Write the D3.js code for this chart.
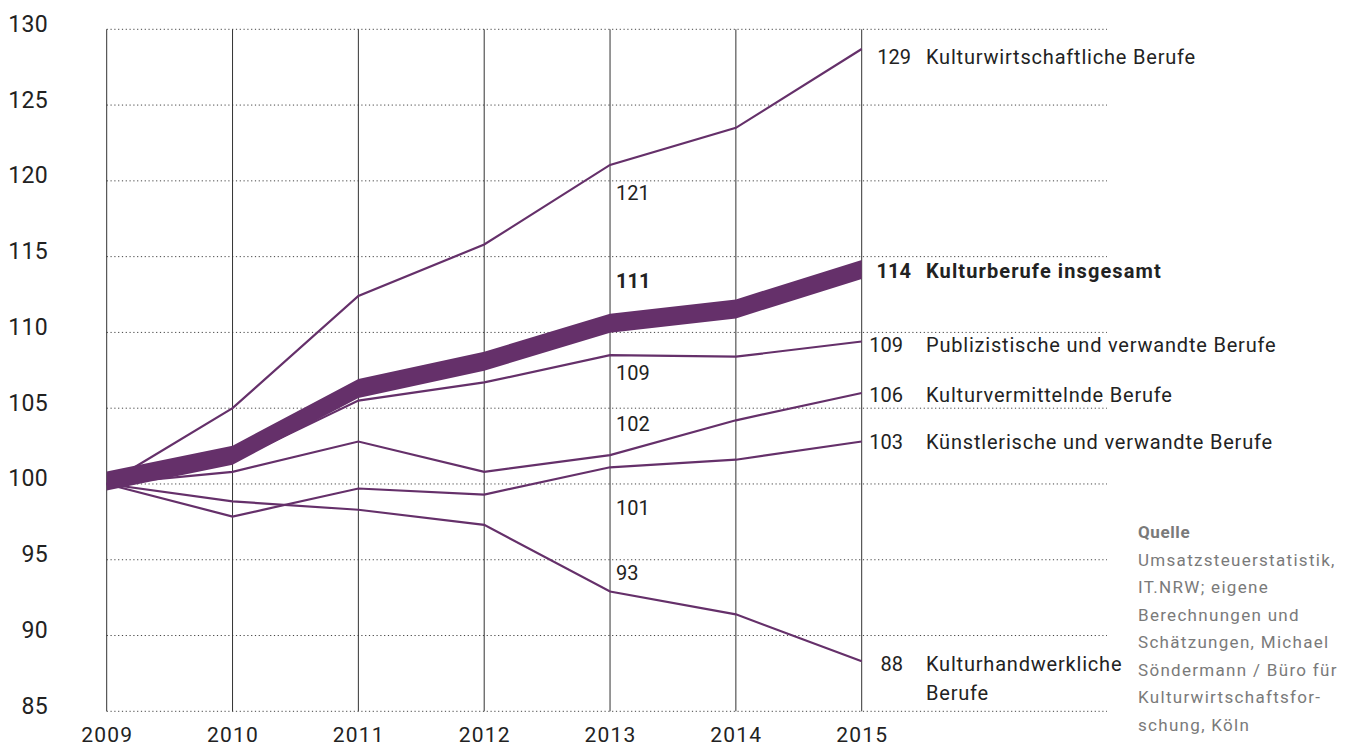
<!DOCTYPE html>
<html lang="de">
<head>
<meta charset="utf-8">
<script src="https://cdn.jsdelivr.net/npm/d3@7/dist/d3.min.js"></script>
<style>
  html, body { margin: 0; padding: 0; background: #fff; }
  svg { display: block; font-family: Roboto, "Noto Sans", sans-serif; }
</style>
</head>
<body>
<svg id="chart" width="1346" height="746"></svg>
<script>
// Index 2009 = 100, Entwicklung der Kulturberufe bis 2015
const years = [2009, 2010, 2011, 2012, 2013, 2014, 2015];
const yTicks = [85, 90, 95, 100, 105, 110, 115, 120, 125, 130];

const seriesNames = [
  "Kulturwirtschaftliche Berufe",
  "Kulturberufe insgesamt",
  "Publizistische und verwandte Berufe",
  "Kulturvermittelnde Berufe",
  "Künstlerische und verwandte Berufe",
  "Kulturhandwerkliche Berufe"
];
const kulturwirtschaftlich = [100, 105.0, 112.4, 115.8, 121.05, 123.5, 128.7];
const insgesamt            = [100.2, 101.9, 106.3, 108.1, 110.6, 111.55, 114.15];
const publizistisch        = [100, 101.5, 105.5, 106.7, 108.5, 108.4, 109.4];
const vermittelnd          = [100, 100.8, 102.8, 100.8, 101.9, 104.2, 106.0];
const kuenstlerisch        = [100, 97.85, 99.7, 99.3, 101.1, 101.6, 102.8];
const handwerklich         = [100, 98.85, 98.3, 97.3, 92.9, 91.4, 88.3];

const sourceTitle = "Quelle";
const sourceLines = [
  "Umsatzsteuerstatistik,",
  "IT.NRW; eigene",
  "Berechnungen und",
  "Schätzungen, Michael",
  "Söndermann / Büro für",
  "Kulturwirtschaftsfor-",
  "schung, Köln"
];

const seriesValues = [kulturwirtschaftlich, insgesamt, publizistisch, vermittelnd, kuenstlerisch, handwerklich];
const series = seriesNames.map((name, i) => ({ name, values: seriesValues[i], total: i === 1 }));

// label placement (pixel offsets relative to the series' point)
const endLabelLayout = [
  { numX: 911, dy: 15, lines: ["Kulturwirtschaftliche Berufe"] },
  { numX: 911, dy: 8.5, lines: ["Kulturberufe insgesamt"] },
  { numX: 903, dy: 10, lines: ["Publizistische und verwandte Berufe"] },
  { numX: 903, dy: 9, lines: ["Kulturvermittelnde Berufe"] },
  { numX: 903, dy: 7.5, lines: ["Künstlerische und verwandte Berufe"] },
  { numX: 903, dy: 10, lines: ["Kulturhandwerkliche", "Berufe"] }
];
const midLabelDy = [35, -35, 25, -24, 48, -12];

const purple = "#65306a";
const ink = "#222";

const svg = d3.select("#chart");

const x = d3.scaleLinear().domain([2009, 2015]).range([106.7, 861.7]);
const y = d3.scaleLinear().domain([85, 130]).range([711.3, 29.3]);

// horizontal dotted grid
svg.append("g")
  .selectAll("line")
  .data(yTicks)
  .join("line")
  .attr("x1", x(2009))
  .attr("x2", 1107)
  .attr("y1", d => y(d))
  .attr("y2", d => y(d))
  .attr("stroke", "#444")
  .attr("stroke-width", 1)
  .attr("stroke-dasharray", "1.2,2.6");

// vertical year lines
svg.append("g")
  .selectAll("line")
  .data(years)
  .join("line")
  .attr("x1", d => x(d))
  .attr("x2", d => x(d))
  .attr("y1", y(130))
  .attr("y2", y(85))
  .attr("stroke", "#333")
  .attr("stroke-width", 1);

// y axis labels
const yAxis = d3.axisLeft(y).tickValues(yTicks).tickSize(0).tickPadding(0);
const gy = svg.append("g").attr("transform", "translate(48,0)").call(yAxis);
gy.select(".domain").remove();
gy.selectAll("text")
  .attr("font-size", 23)
  .attr("font-family", "Roboto, sans-serif")
  .attr("font-weight", 400)
  .attr("letter-spacing", 0.3)
  .attr("fill", ink)
  .attr("dy", null)
  .attr("y", 2);

// x axis labels
const xAxis = d3.axisBottom(x).tickValues(years).tickFormat(d3.format("d")).tickSize(0).tickPadding(0);
const gx = svg.append("g").attr("transform", "translate(0,742)").call(xAxis);
gx.select(".domain").remove();
gx.selectAll("text")
  .attr("font-size", 21)
  .attr("font-family", "Roboto, sans-serif")
  .attr("font-weight", 400)
  .attr("letter-spacing", 1.2)
  .attr("fill", ink)
  .attr("dy", null)
  .attr("y", 0);

// thin series lines
const line = d3.line().x((d, i) => x(years[i])).y(d => y(d));
svg.append("g")
  .selectAll("path")
  .data(series.filter(s => !s.total))
  .join("path")
  .attr("d", d => line(d.values))
  .attr("fill", "none")
  .attr("stroke", purple)
  .attr("stroke-width", 2.2)
  .attr("stroke-linejoin", "miter");

// total as a band of constant vertical thickness
const half = 9.5;
const band = d3.area()
  .x((d, i) => x(years[i]))
  .y0(d => y(d) + half)
  .y1(d => y(d) - half);
svg.append("path")
  .datum(insgesamt)
  .attr("d", band)
  .attr("fill", purple);

// values at 2013
svg.append("g")
  .selectAll("text")
  .data(series)
  .join("text")
  .attr("x", x(2013) + 6)
  .attr("y", (d, i) => y(d.values[4]) + midLabelDy[i])
  .attr("font-size", 20)
  .attr("font-weight", d => d.total ? 700 : 400)
  .attr("fill", ink)
  .text(d => Math.round(d.values[4]));

// end labels at 2015
const endG = svg.append("g");
series.forEach((s, i) => {
  const lay = endLabelLayout[i];
  const by = y(s.values[6]) + lay.dy;
  const w = s.total ? 700 : 400;
  endG.append("text")
    .attr("x", lay.numX)
    .attr("y", by)
    .attr("text-anchor", "end")
    .attr("font-size", 20)
    .attr("font-weight", w)
    .attr("fill", ink)
    .text(Math.round(s.values[6]));
  const t = endG.append("text")
    .attr("x", 926)
    .attr("y", by)
    .attr("font-size", 20)
    .attr("font-weight", w)
    .attr("letter-spacing", s.total ? 1.1 : 0.8)
    .attr("fill", ink);
  lay.lines.forEach((ln, k) => {
    t.append("tspan").attr("x", 926).attr("dy", k === 0 ? 0 : 29).text(ln);
  });
});

// source note
const src = svg.append("text")
  .attr("x", 1138)
  .attr("y", 538)
  .attr("font-size", 17)
  .attr("fill", "#7a7a7a");
src.append("tspan").attr("x", 1138).attr("font-weight", 700).attr("letter-spacing", 0.6).text(sourceTitle);
sourceLines.forEach(ln => {
  src.append("tspan").attr("x", 1138).attr("dy", 27.5).attr("font-weight", 400).attr("letter-spacing", 1.3).text(ln);
});
</script>
</body>
</html>
